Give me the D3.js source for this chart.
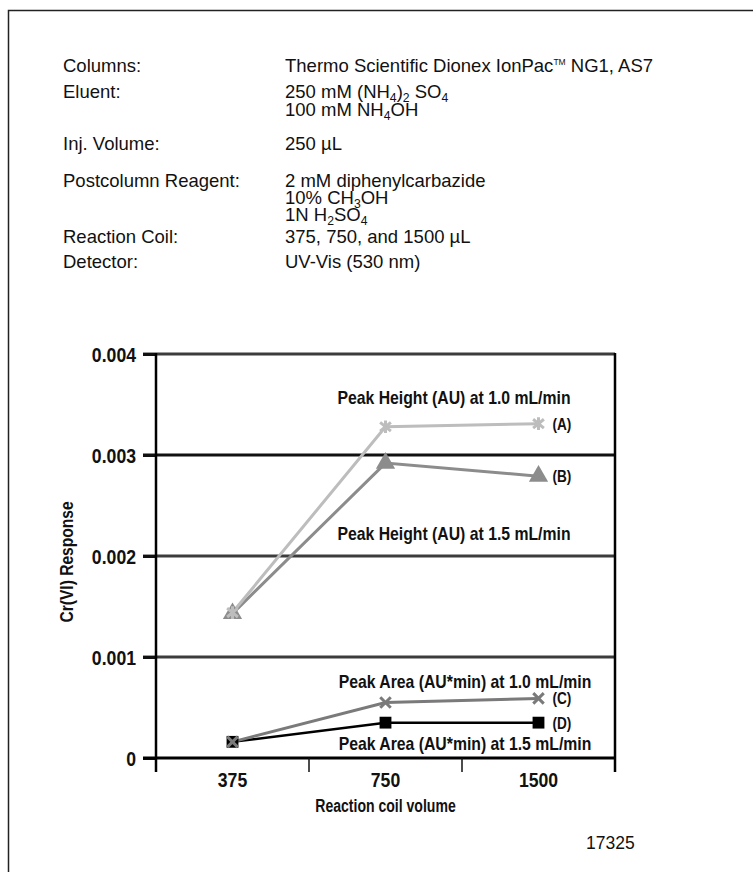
<!DOCTYPE html>
<html>
<head>
<meta charset="utf-8">
<script src="https://cdn.jsdelivr.net/npm/d3@7"></script>
<style>
  html, body { margin: 0; padding: 0; background: #fff; }
  svg { display: block; }
</style>
</head>
<body>
<script>
// ---- Chromatography conditions ----
const headerLabels = ["Columns:", "Eluent:", "Inj. Volume:", "Postcolumn Reagent:", "Reaction Coil:", "Detector:"];
const headerValues = [
  ["Thermo Scientific Dionex IonPac^TM NG1, AS7"],
  ["250 mM (NH_4)_2 SO_4", "100 mM NH_4OH"],
  ["250 µL"],
  ["2 mM diphenylcarbazide", "10% CH_3OH", "1N H_2SO_4"],
  ["375, 750, and 1500 µL"],
  ["UV-Vis (530 nm)"]
];

// ---- Cr(VI) response vs. reaction coil volume ----
const categories = ["375", "750", "1500"];
const heightAt10 = [0.00144, 0.00328, 0.00331];   // (A) peak height, 1.0 mL/min
const heightAt15 = [0.00143, 0.00292, 0.00279];   // (B) peak height, 1.5 mL/min
const areaAt10   = [0.00016, 0.00055, 0.00059];   // (C) peak area, 1.0 mL/min
const areaAt15   = [0.00016, 0.00035, 0.00035];   // (D) peak area, 1.5 mL/min
const seriesTags = ["(A)", "(B)", "(C)", "(D)"];
const groupLabels = [
  "Peak Height (AU) at 1.0 mL/min",
  "Peak Height (AU) at 1.5 mL/min",
  "Peak Area (AU*min) at 1.0 mL/min",
  "Peak Area (AU*min) at 1.5 mL/min"
];
const yTicks = [0, 0.001, 0.002, 0.003, 0.004];
const yTickLabels = ["0", "0.001", "0.002", "0.003", "0.004"];
const yTitle = "Cr(VI) Response";
const xTitle = "Reaction coil volume";
const figureNumber = "17325";

const W = 753, H = 872;
const svg = d3.select("body").append("svg").attr("width", W).attr("height", H);

// page frame
svg.append("rect")
  .attr("x", 8.5).attr("y", 10.5).attr("width", 800).attr("height", 900)
  .attr("fill", "none").attr("stroke", "#222").attr("stroke-width", 1.5);

// ---- header block ----
const bodyFont = "'Liberation Sans', Arial, Helvetica, sans-serif";
const headerSize = 18.5;
const rowBaselines = [[72], [98, 116], [150], [187, 204, 221], [243], [268]];
const labelX = 63, valueX = 285;

// write a string with _n subscripts and ^TM superscript into a text node
function richText(sel, str) {
  const parts = str.split(/(_\d|\^TM)/).filter(s => s.length);
  let shift = 0;
  parts.forEach(p => {
    let txt = p, size = null, target = 0;
    if (p.startsWith("_")) { txt = p.slice(1); size = "66%"; target = 4; }
    else if (p === "^TM") { txt = "TM"; size = "46%"; target = -7; }
    const dy = target - shift; shift = target;
    const t = sel.append("tspan").text(txt).attr("dy", dy);
    if (size) t.attr("font-size", size);
  });
}

const header = svg.append("g")
  .attr("font-family", bodyFont).attr("font-size", headerSize).attr("fill", "#111");
headerLabels.forEach((lab, i) => {
  header.append("text").attr("x", labelX).attr("y", rowBaselines[i][0]).text(lab);
  headerValues[i].forEach((v, j) => {
    const t = header.append("text").attr("x", valueX).attr("y", rowBaselines[i][j]);
    richText(t, v);
  });
});

// ---- chart ----
// chart lettering is a condensed bold face: squeeze the bold sans horizontally
const chartFont = "'Liberation Sans', Arial, Helvetica, sans-serif";
function condense(sel, f) {
  sel.each(function () {
    const len = this.getComputedTextLength();
    d3.select(this).attr("textLength", len * f).attr("lengthAdjust", "spacingAndGlyphs");
  });
}

const pL = 156, pR = 615, pT = 354, pB = 758;

const x = d3.scaleBand().domain(categories).range([pL, pR]).padding(0);
const y = d3.scaleLinear().domain([0, 0.004]).range([pB, pT]);
const cx = c => x(c) + x.bandwidth() / 2;

const chart = svg.append("g");

// horizontal rules at each tick above zero
chart.append("g").selectAll("line")
  .data(yTicks.filter(t => t > 0))
  .join("line")
  .attr("x1", pL - 13).attr("x2", pR)
  .attr("y1", d => y(d)).attr("y2", d => y(d))
  .attr("stroke", d => d === 0.003 ? "#111" : "#3c3c3c")
  .attr("stroke-width", 3);

// y axis
const yAxis = chart.append("g")
  .attr("transform", `translate(${pL},0)`)
  .call(d3.axisLeft(y).tickValues(yTicks).tickFormat((d, i) => yTickLabels[i]).tickSize(13).tickPadding(7));
yAxis.select(".domain").remove();
yAxis.selectAll(".tick line").attr("stroke", "#111").attr("stroke-width", 3);
yAxis.selectAll(".tick text")
  .attr("font-family", chartFont).attr("font-size", 21).attr("font-weight", "bold")
  .attr("fill", "#111").attr("dy", "0.36em")
  .call(condense, 0.84);

chart.append("line").attr("x1", pL).attr("x2", pL).attr("y1", pT - 1).attr("y2", pB + 14)
  .attr("stroke", "#000").attr("stroke-width", 2.5);
chart.append("line").attr("x1", pR).attr("x2", pR).attr("y1", pT - 1).attr("y2", pB + 14)
  .attr("stroke", "#000").attr("stroke-width", 2.5);
chart.append("line").attr("x1", pL - 13).attr("x2", pR).attr("y1", pB).attr("y2", pB)
  .attr("stroke", "#000").attr("stroke-width", 3);

// x axis: category labels, ticks at the band boundaries
const xAxis = chart.append("g")
  .attr("transform", `translate(0,${pB})`)
  .call(d3.axisBottom(x).tickSize(0).tickPadding(14));
xAxis.select(".domain").remove();
xAxis.selectAll(".tick text")
  .attr("font-family", chartFont).attr("font-size", 21).attr("font-weight", "bold").attr("fill", "#111")
  .call(condense, 0.84);
chart.append("g").selectAll("line")
  .data(categories.slice(1))
  .join("line")
  .attr("x1", d => x(d)).attr("x2", d => x(d))
  .attr("y1", pB).attr("y2", pB + 14)
  .attr("stroke", "#111").attr("stroke-width", 1.5);

// axis titles
chart.append("text")
  .attr("transform", `translate(73,${(pT + pB) / 2 + 6}) rotate(-90)`)
  .attr("text-anchor", "middle")
  .attr("font-family", chartFont).attr("font-size", 19).attr("font-weight", "bold").attr("fill", "#111")
  .text(yTitle)
  .call(condense, 0.82);
chart.append("text")
  .attr("x", (pL + pR) / 2).attr("y", 812)
  .attr("text-anchor", "middle")
  .attr("font-family", chartFont).attr("font-size", 18).attr("font-weight", "bold").attr("fill", "#111")
  .text(xTitle)
  .call(condense, 0.78);

// marker shapes
const asterisk = {
  draw(ctx, size) {
    const r = Math.sqrt(size) / 2;
    ctx.moveTo(0, -r); ctx.lineTo(0, r);
    ctx.moveTo(-r * 0.85, -r * 0.7); ctx.lineTo(r * 0.85, r * 0.7);
    ctx.moveTo(-r * 0.85, r * 0.7); ctx.lineTo(r * 0.85, -r * 0.7);
  }
};
const cross = {
  draw(ctx, size) {
    const r = Math.sqrt(size) / 2;
    ctx.moveTo(-r, -r); ctx.lineTo(r, r);
    ctx.moveTo(-r, r); ctx.lineTo(r, -r);
  }
};

const series = [
  { values: heightAt15, color: "#8c8c8c", width: 3, type: d3.symbolTriangle, size: 160, fill: true },
  { values: heightAt10, color: "#bdbdbd", width: 3, type: asterisk, size: 160, fill: false },
  { values: areaAt15,   color: "#000",    width: 2.5, type: d3.symbolSquare, size: 140, fill: true },
  { values: areaAt10,   color: "#7a7a7a", width: 3, type: cross, size: 110, fill: false }
];

const line = d3.line().x((d, i) => cx(categories[i])).y(d => y(d));
series.forEach(s => {
  chart.append("path").datum(s.values)
    .attr("d", line).attr("fill", "none")
    .attr("stroke", s.color).attr("stroke-width", s.width);
});
series.forEach(s => {
  chart.append("g").selectAll("path")
    .data(s.values)
    .join("path")
    .attr("transform", (d, i) => `translate(${cx(categories[i])},${y(d)})`)
    .attr("d", d3.symbol(s.type, s.size))
    .attr("fill", s.fill ? s.color : "none")
    .attr("stroke", s.color)
    .attr("stroke-width", s.fill ? 0 : 3);
});

// group labels and series tags
const labelG = chart.append("g")
  .attr("font-family", chartFont).attr("font-size", 19).attr("font-weight", "bold").attr("fill", "#111");
const groupPos = [[454, 404], [454, 540], [465, 688], [465, 750]];
groupLabels.forEach((t, i) => {
  labelG.append("text").attr("x", groupPos[i][0]).attr("y", groupPos[i][1])
    .attr("text-anchor", "middle").text(t)
    .call(condense, 0.83);
});
const tagValues = [heightAt10, heightAt15, areaAt10, areaAt15];
seriesTags.forEach((t, i) => {
  const v = tagValues[i][categories.length - 1];
  labelG.append("text").attr("x", cx(categories[2]) + 14).attr("y", y(v) + 6)
    .attr("font-size", 17).text(t)
    .call(condense, 0.8);
});

// figure number
svg.append("text").attr("x", 586).attr("y", 849)
  .attr("font-family", bodyFont).attr("font-size", 17.5).attr("fill", "#111")
  .text(figureNumber);
</script>
</body>
</html>
